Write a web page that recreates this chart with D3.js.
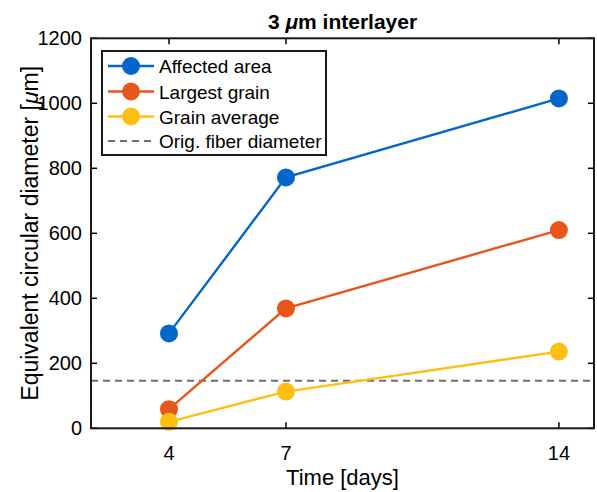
<!DOCTYPE html>
<html>
<head>
<meta charset="utf-8">
<script src="https://cdn.jsdelivr.net/npm/d3@7"></script>
<style>
body { margin: 0; background: #fff; }
svg { display: block; font-family: "Liberation Sans", Arial, sans-serif; }
</style>
</head>
<body>
<svg id="chart" width="597" height="492"></svg>
<script>
const days = [4, 7, 14];
const affectedArea = [292, 772, 1015];
const largestGrain = [59, 369, 610];
const grainAverage = [20, 113, 236];
const fiberDiameter = 146;
const yTicks = [0, 200, 400, 600, 800, 1000, 1200];
const xTicks = [4, 7, 14];
const seriesNames = ["Affected area", "Largest grain", "Grain average"];
const seriesColors = ["#0466c8", "#e8561c", "#fdbf12"];

const svg = d3.select("#chart");
const L = 91, R = 594, T = 38.3, B = 428.3;
const x = d3.scaleLinear().domain([2, 14.9]).range([L, R]);
const y = d3.scaleLinear().domain([0, 1200]).range([B, T]);

const tickLen = 6;
const g = svg.append("g");
xTicks.forEach(t => {
  g.append("line").attr("x1", x(t)).attr("x2", x(t)).attr("y1", B).attr("y2", B - tickLen).attr("stroke", "#000").attr("stroke-width", 1.5);
  g.append("line").attr("x1", x(t)).attr("x2", x(t)).attr("y1", T).attr("y2", T + tickLen).attr("stroke", "#000").attr("stroke-width", 1.5);
  g.append("text").attr("x", x(t)).attr("y", B + 32).attr("text-anchor", "middle").attr("font-size", 20).text(t);
});
yTicks.forEach(t => {
  g.append("line").attr("x1", L).attr("x2", L + tickLen).attr("y1", y(t)).attr("y2", y(t)).attr("stroke", "#000").attr("stroke-width", 1.5);
  g.append("line").attr("x1", R).attr("x2", R - tickLen).attr("y1", y(t)).attr("y2", y(t)).attr("stroke", "#000").attr("stroke-width", 1.5);
  g.append("text").attr("x", L - 9).attr("y", y(t) + 7).attr("text-anchor", "end").attr("font-size", 20).text(t);
});

svg.append("line").attr("x1", L).attr("x2", R).attr("y1", y(fiberDiameter)).attr("y2", y(fiberDiameter))
  .attr("stroke", "#6e6e6e").attr("stroke-width", 2).attr("stroke-dasharray", "7,5");

const allSeries = [affectedArea, largestGrain, grainAverage];
const line = d3.line().x((d, i) => x(days[i])).y(d => y(d));
allSeries.forEach((vals, k) => {
  svg.append("path").datum(vals).attr("d", line).attr("fill", "none").attr("stroke", seriesColors[k]).attr("stroke-width", 2.4);
  svg.selectAll(null).data(vals).enter().append("circle")
    .attr("cx", (d, i) => x(days[i])).attr("cy", d => y(d)).attr("r", 9)
    .attr("fill", seriesColors[k]);
});

svg.append("rect").attr("x", L).attr("y", T).attr("width", R - L).attr("height", B - T)
  .attr("fill", "none").attr("stroke", "#1a1a1a").attr("stroke-width", 2);

const lg = svg.append("g");
lg.append("rect").attr("x", 102).attr("y", 51).attr("width", 224).attr("height", 104)
  .attr("fill", "#fff").attr("stroke", "#1a1a1a").attr("stroke-width", 2);
const legY = [66, 91.5, 116.5, 141];
seriesNames.forEach((n, k) => {
  lg.append("line").attr("x1", 108).attr("x2", 154).attr("y1", legY[k]).attr("y2", legY[k]).attr("stroke", seriesColors[k]).attr("stroke-width", 2.4);
  lg.append("circle").attr("cx", 131).attr("cy", legY[k]).attr("r", 9).attr("fill", seriesColors[k]);
  lg.append("text").attr("x", 159).attr("y", legY[k] + 7).attr("font-size", 19).text(n);
});
lg.append("line").attr("x1", 108).attr("x2", 154).attr("y1", legY[3]).attr("y2", legY[3]).attr("stroke", "#6e6e6e").attr("stroke-width", 2).attr("stroke-dasharray", "7,5");
lg.append("text").attr("x", 159).attr("y", legY[3] + 7).attr("font-size", 19).text("Orig. fiber diameter");

const title = svg.append("text").attr("x", (L + R) / 2).attr("y", 29).attr("text-anchor", "middle")
  .attr("font-size", 21).attr("font-weight", "bold");
title.append("tspan").text("3 ");
title.append("tspan").attr("font-style", "italic").text("μ");
title.append("tspan").text("m interlayer");

svg.append("text").attr("x", (L + R) / 2).attr("y", 485).attr("text-anchor", "middle").attr("font-size", 22).text("Time [days]");
const yl = svg.append("text").attr("transform", `translate(38,${(T + B) / 2}) rotate(-90)`).attr("text-anchor", "middle").attr("font-size", 23);
yl.append("tspan").text("Equivalent circular diameter [");
yl.append("tspan").attr("font-style", "italic").text("μ");
yl.append("tspan").text("m]");
</script>
</body>
</html>
